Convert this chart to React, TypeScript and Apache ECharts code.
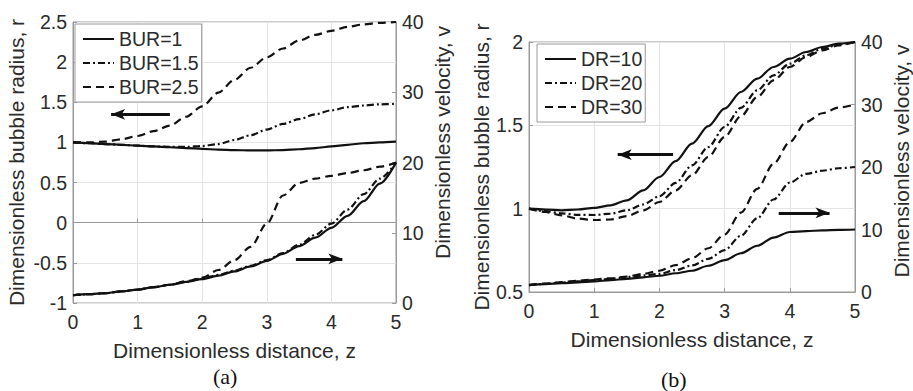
import React, { useEffect, useRef } from "react";
import * as echarts from "echarts";

const zVals = [0, 0.25, 0.5, 0.75, 1, 1.25, 1.5, 1.75, 2, 2.25, 2.5, 2.75, 3, 3.25, 3.5, 3.75, 4, 4.25, 4.5, 4.75, 5];

// Panel (a): BUR variation
const bur1R = [1.0, 0.99, 0.98, 0.97, 0.96, 0.95, 0.94, 0.93, 0.92, 0.91, 0.905, 0.9, 0.9, 0.905, 0.915, 0.93, 0.95, 0.97, 0.99, 1.0, 1.01];
const bur15R = [1.0, 0.99, 0.98, 0.97, 0.96, 0.95, 0.945, 0.945, 0.955, 0.98, 1.03, 1.09, 1.16, 1.23, 1.29, 1.35, 1.4, 1.44, 1.46, 1.475, 1.48];
const bur25R = [1.0, 1.0, 1.01, 1.04, 1.08, 1.14, 1.21, 1.32, 1.45, 1.62, 1.78, 1.93, 2.06, 2.17, 2.27, 2.34, 2.39, 2.44, 2.47, 2.49, 2.5];
const bur1V = [1.1, 1.25, 1.4, 1.65, 1.9, 2.25, 2.6, 3.0, 3.4, 3.9, 4.5, 5.2, 6.0, 7.0, 8.1, 9.3, 10.7, 12.4, 14.5, 17.0, 20];
const bur15V = [1.1, 1.25, 1.4, 1.65, 1.9, 2.25, 2.6, 3.0, 3.5, 4.0, 4.6, 5.3, 6.1, 7.1, 8.3, 9.7, 11.3, 13.3, 15.5, 17.7, 20];
const bur25V = [1.1, 1.25, 1.4, 1.65, 1.9, 2.25, 2.6, 3.1, 3.6, 4.7, 6.1, 8.0, 11.3, 15.3, 17.1, 17.7, 18.1, 18.5, 18.9, 19.4, 20];

// Panel (b): DR variation
const dr10R = [1.0, 0.995, 0.99, 0.995, 1.005, 1.02, 1.05, 1.11, 1.19, 1.285, 1.39, 1.495, 1.6, 1.7, 1.78, 1.85, 1.9, 1.94, 1.97, 1.99, 2.0];
const dr20R = [1.0, 0.985, 0.972, 0.963, 0.962, 0.97, 0.99, 1.025, 1.075, 1.155, 1.26, 1.37, 1.49, 1.605, 1.71, 1.8, 1.87, 1.92, 1.96, 1.985, 2.0];
const dr30R = [1.0, 0.98, 0.96, 0.94, 0.932, 0.935, 0.955, 0.99, 1.04, 1.11, 1.2, 1.31, 1.43, 1.555, 1.67, 1.77, 1.85, 1.91, 1.95, 1.98, 2.0];
const dr10V = [1.1, 1.25, 1.4, 1.55, 1.7, 1.9, 2.1, 2.35, 2.6, 3.0, 3.4, 4.2, 5.1, 6.2, 7.4, 8.7, 9.6, 9.75, 9.85, 9.93, 10];
const dr20V = [1.1, 1.3, 1.5, 1.7, 1.9, 2.1, 2.4, 2.65, 2.9, 3.5, 4.25, 5.3, 6.7, 9.0, 11.8, 14.8, 17.5, 18.9, 19.4, 19.8, 20];
const dr30V = [1.1, 1.35, 1.6, 1.8, 2.0, 2.2, 2.45, 2.9, 3.4, 4.3, 5.4, 7.0, 9.2, 12.7, 16.5, 20.5, 24, 27.2, 28.6, 29.5, 30];

const namesA = ["BUR=1", "BUR=1.5", "BUR=2.5"];
const namesB = ["DR=10", "DR=20", "DR=30"];

// arrows: [zFrom, rFrom, zTo, rTo]
const arrowsA = [
  [1.5, 1.35, 0.59, 1.35],
  [3.45, -0.45, 4.17, -0.45],
];
const arrowsB = [
  [2.21, 1.324, 1.36, 1.324],
  [3.83, 0.975, 4.61, 0.975],
];

const FONT = "'Liberation Sans', Arial, Helvetica, sans-serif";
const TXT = "#2b2b2b";
const FRAME = "#9a9a9a";
const GRIDC = "#e4e4e4";
const DASH = [8, 5];
const DASHDOT = [7, 3, 2, 3];
const styles: any[] = ["solid", DASHDOT, DASH];

const pairs = (ys: number[]) => zVals.map((z, i) => [z, ys[i]]);

function App() {
  const ref = useRef<HTMLDivElement>(null);
  useEffect(() => {
    if (!ref.current) return;
    const chart = echarts.init(ref.current, undefined, { renderer: "svg" });

    const xAxisBase = (gridIndex: number) => ({
      type: "value",
      gridIndex,
      min: 0,
      max: 5,
      interval: 1,
      name: "Dimensionless distance, z",
      nameLocation: "middle",
      nameGap: 37,
      nameTextStyle: { fontFamily: FONT, fontSize: 21, color: TXT },
      axisLine: { show: true, lineStyle: { color: FRAME, width: 1 } },
      axisTick: { show: true, inside: true, length: 4, lineStyle: { color: FRAME } },
      axisLabel: { fontFamily: FONT, fontSize: 19.5, color: TXT, margin: 9 },
      splitLine: { show: true, lineStyle: { color: GRIDC, width: 1 } },
    });

    const yLeft = (gridIndex: number, min: number, max: number, gap: number, pad: number[]) => ({
      type: "value",
      gridIndex,
      position: "left",
      min,
      max,
      interval: 0.5,
      name: "Dimensionless bubble radius, r",
      nameLocation: "middle",
      nameRotate: 90,
      nameGap: gap,
      nameTextStyle: { fontFamily: FONT, fontSize: 21, color: TXT, padding: pad },
      axisLine: { show: true, lineStyle: { color: FRAME, width: 1 } },
      axisTick: { show: true, inside: true, length: 4, lineStyle: { color: FRAME } },
      axisLabel: { fontFamily: FONT, fontSize: 19.5, color: TXT, margin: 6 },
      splitLine: { show: true, lineStyle: { color: GRIDC, width: 1 } },
    });

    const yRight = (gridIndex: number, gap: number, pad: number[]) => ({
      type: "value",
      gridIndex,
      position: "right",
      min: 0,
      max: 40,
      interval: 10,
      name: "Dimensionless velocity, v",
      nameLocation: "middle",
      nameRotate: 90,
      nameGap: gap,
      nameTextStyle: { fontFamily: FONT, fontSize: 21, color: TXT, padding: pad },
      axisLine: { show: true, lineStyle: { color: FRAME, width: 1 } },
      axisTick: { show: true, inside: true, length: 4, lineStyle: { color: FRAME } },
      axisLabel: { fontFamily: FONT, fontSize: 19.5, color: TXT, margin: 6 },
      splitLine: { show: false },
    });

    const mkArrows = (arr: number[][]) => ({
      silent: true,
      symbol: ["none", "arrow"],
      symbolSize: [8, 14],
      label: { show: false },
      lineStyle: { color: "#111", width: 3, type: "solid" },
      data: arr.map((a) => [
        { coord: [a[0], a[1]] },
        { coord: [a[2], a[3]] },
      ]),
    });

    const line = (name: string, data: number[][], xi: number, yi: number, st: any, extra: any = {}) => ({
      type: "line",
      name,
      xAxisIndex: xi,
      yAxisIndex: yi,
      data,
      symbol: "none",
      smooth: 0.3,
      smoothMonotone: "x",
      lineStyle: { color: "#111", width: 2.2, type: st },
      itemStyle: { color: "#111" },
      ...extra,
    });

    const radA = [bur1R, bur15R, bur25R];
    const velA = [bur1V, bur15V, bur25V];
    const radB = [dr10R, dr20R, dr30R];
    const velB = [dr10V, dr20V, dr30V];

    const series: any[] = [];
    namesA.forEach((n, i) => {
      series.push(line(n, pairs(radA[i]), 0, 0, styles[i], i === 0 ? { markLine: mkArrows(arrowsA) } : {}));
      series.push(line(n, pairs(velA[i]), 0, 1, styles[i]));
    });
    namesB.forEach((n, i) => {
      series.push(line(n, pairs(radB[i]), 1, 2, styles[i], i === 0 ? { markLine: mkArrows(arrowsB) } : {}));
      series.push(line(n, pairs(velB[i]), 1, 3, styles[i]));
    });

    const legendBase = {
      orient: "vertical",
      itemWidth: 31,
      itemHeight: 14,
      itemGap: 4,
      backgroundColor: "#fff",
      borderColor: FRAME,
      borderWidth: 1,
      borderRadius: 0,
      padding: [5, 3, 5, 7],
      itemStyle: { opacity: 0 },
      lineStyle: { width: 2 },
      textStyle: { fontFamily: FONT, fontSize: 19.5, color: TXT, lineHeight: 20 },
      selectedMode: false,
    };

    chart.setOption({
      animation: false,
      backgroundColor: "#fff",
      grid: [
        { left: 73, top: 22, width: 323, height: 281, show: true, borderColor: FRAME, borderWidth: 1 },
        { left: 529, top: 42, width: 329, height: 250, show: true, borderColor: FRAME, borderWidth: 1 },
      ],
      xAxis: [xAxisBase(0), xAxisBase(1)],
      yAxis: [
        yLeft(0, -1, 2.5, 46, [0, 0, 0, 0]),
        yRight(0, 36, [0, 0, 0, 40]),
        yLeft(1, 0.5, 2, 34, [0, 0, 0, 0]),
        yRight(1, 36, [0, 0, 0, 12]),
      ],
      legend: [
        { ...legendBase, data: namesA, left: 75, top: 24 },
        { ...legendBase, data: namesB, left: 537, top: 44 },
      ],
      graphic: [
        {
          type: "text",
          left: 213,
          top: 365,
          style: { text: "(a)", fontFamily: "'Liberation Serif', 'Times New Roman', serif", fontSize: 22, fill: "#111" },
        },
        {
          type: "text",
          left: 661,
          top: 368,
          style: { text: "(b)", fontFamily: "'Liberation Serif', 'Times New Roman', serif", fontSize: 22, fill: "#111" },
        },
      ],
      series,
    });

    return () => chart.dispose();
  }, []);

  return (
    <div
      ref={ref}
      style={{ position: "fixed", left: 0, top: 0, width: 913, height: 391, background: "#fff" }}
    />
  );
}

export default App;
